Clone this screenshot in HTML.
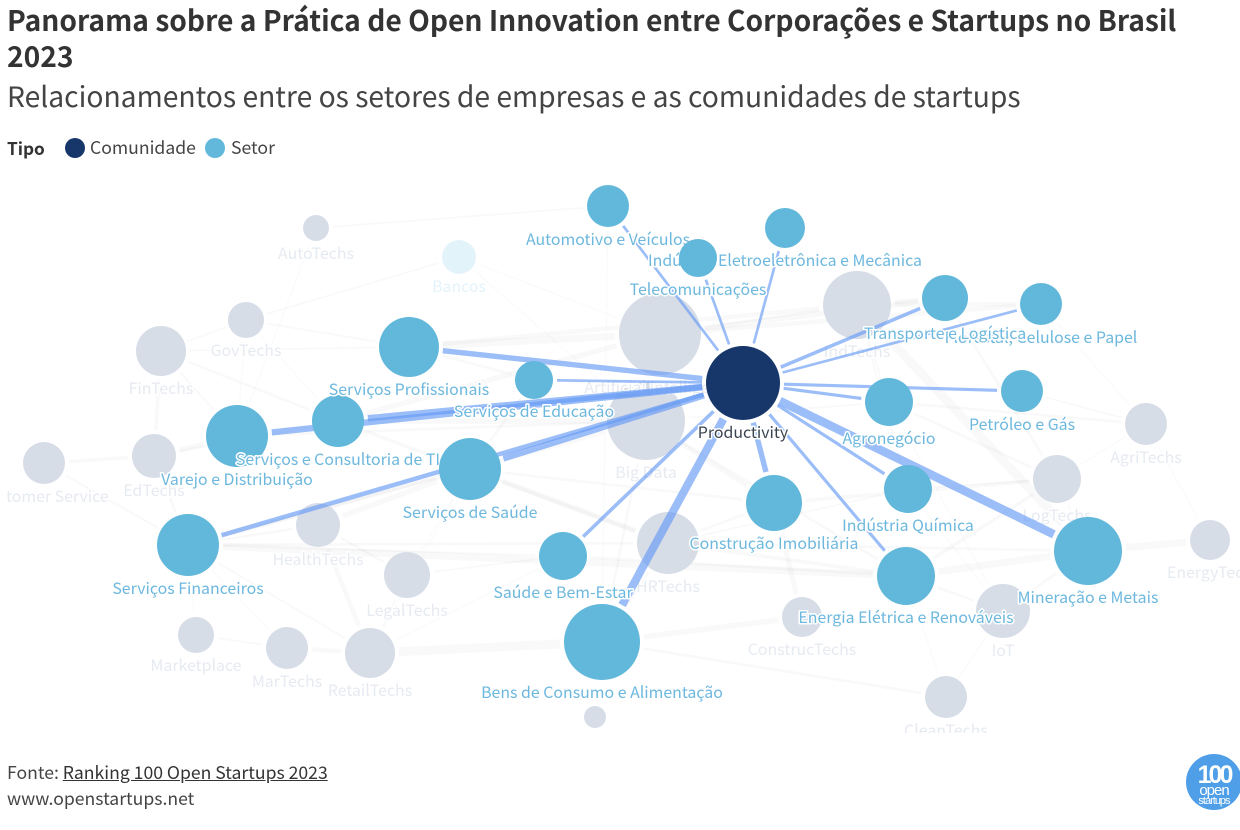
<!DOCTYPE html>
<html lang="pt-BR">
<head>
<meta charset="utf-8">
<title>Panorama sobre a Prática de Open Innovation</title>
<style>
html,body{margin:0;padding:0;background:#fff;width:1240px;height:830px;overflow:hidden}
body{font-family:"Noto Sans CJK JP","Liberation Sans",sans-serif;color:#333;position:relative}
.t{position:absolute;left:7px;white-space:nowrap}
#title{top:2px;font-size:28.2px;font-weight:700;line-height:36px;color:#333}
#subtitle{top:76px;font-size:28.24px;line-height:40px;font-weight:400;color:#444}
#legend-title{top:135.5px;font-size:17.2px;line-height:24px;font-weight:700}
.leg{position:absolute;top:135.5px;font-size:17.6px;line-height:24px;color:#444}
.dot{position:absolute;top:138px;width:20px;height:20px;border-radius:50%}
#foot1{top:761px;font-size:17.6px;line-height:24px;color:#444}
#foot1 a{color:#333;text-decoration:underline}
#foot2{top:787px;font-size:17.6px;line-height:24px;color:#444}
#chart{position:absolute;left:0;top:0}
#chart text{font-family:"Noto Sans CJK JP","Liberation Sans",sans-serif;font-size:15.9px;text-anchor:middle;dominant-baseline:central;paint-order:stroke;stroke:#fff;stroke-width:3px;stroke-linejoin:round}
#logo{position:absolute;left:1186px;top:754px;width:54px;height:56px}
</style>
</head>
<body>
<div id="title" class="t">Panorama sobre a Prática de Open Innovation entre Corporações e Startups no Brasil<br>2023</div>
<div id="subtitle" class="t">Relacionamentos entre os setores de empresas e as comunidades de startups</div>

<div id="legend-title" class="t">Tipo</div>
<div class="dot" style="left:65px;background:#17376b"></div>
<div class="leg" style="left:90px">Comunidade</div>
<div class="dot" style="left:205px;background:#62b8db"></div>
<div class="leg" style="left:231px">Setor</div>

<svg id="chart" width="1240" height="830" viewBox="0 0 1240 830">
  <defs><clipPath id="plot-clip"><rect x="7" y="170" width="1233" height="563"></rect></clipPath></defs>
  <g id="plot" clip-path="url(#plot-clip)"></g>
</svg>

<div id="foot1" class="t">Fonte: <a href="#">Ranking 100 Open Startups 2023</a></div>
<div id="foot2" class="t">www.openstartups.net</div>

<svg id="logo" viewBox="0 0 54 56">
  <circle cx="28" cy="28" r="28" fill="#4f9fe8"></circle>
  <text x="28" y="29" text-anchor="middle" fill="#fff" font-size="25" font-weight="700" letter-spacing="-3" font-family="Liberation Sans, sans-serif">100</text>
  <text x="28" y="41" text-anchor="middle" fill="#fff" font-size="15" letter-spacing="-1" font-family="Liberation Sans, sans-serif">open</text>
  <text x="28" y="50" text-anchor="middle" fill="#fff" font-size="11" letter-spacing="-1" font-family="Liberation Sans, sans-serif">startups</text>
</svg>

<script>
// Node table, layout coordinates are in force-layout units, sizes in connection strength
var nodeNames = ["Productivity","Automotivo e Veículos","Telecomunicações","Indústria Eletroeletrônica e Mecânica","Transporte e Logística","Florestal, Celulose e Papel","Serviços Profissionais","Serviços de Educação","Petróleo e Gás","Agronegócio","Serviços e Consultoria de TI","Varejo e Distribuição","Serviços de Saúde","Indústria Química","Construção Imobiliária","Saúde e Bem-Estar","Serviços Financeiros","Energia Elétrica e Renováveis","Mineração e Metais","Bens de Consumo e Alimentação","AutoTechs","Bancos","GovTechs","FinTechs","Artificial Intelligence","IndTechs","Big Data","Customer Service","EdTechs","HealthTechs","LegalTechs","Marketplace","MarTechs","RetailTechs","HRTechs","ConstrucTechs","IoT","LogTechs","AgriTechs","EnergyTech","CleanTechs",""];
var nodeTypes = ["c","s","s","s","s","s","s","s","s","s","s","s","s","s","s","s","s","s","s","s","g","b","g","g","g","g","g","g","g","g","g","g","g","g","g","g","g","g","g","g","g","g"];
var nodeLayoutX = [74.3,60.8,69.8,78.5,94.5,104.1,40.9,53.4,102.2,88.9,33.8,23.7,47.0,90.8,77.4,56.3,18.8,90.6,108.8,60.2,31.6,45.9,24.6,16.1,66.0,85.7,64.6,4.4,15.4,31.8,40.7,19.6,28.7,37.0,66.8,80.2,100.3,105.7,114.6,121.0,94.6,59.5];
var nodeLayoutY = [38.3,20.6,25.8,22.8,29.8,30.4,34.7,38.0,39.1,40.2,42.1,43.6,46.9,48.9,50.3,55.6,54.5,57.6,55.1,64.2,22.8,25.7,32.0,35.1,33.4,30.5,42.1,46.3,45.6,52.5,57.5,63.5,64.8,65.3,54.3,61.7,61.1,47.9,42.4,54.0,69.7,71.7];
var nodeValues = [100,32.2,26.4,29.2,38.6,32.2,65.7,26.4,32.2,42,49.4,70.2,70.2,42,57.3,42,70.2,61.4,84.4,105.5,12.3,21,23.7,45.7,122.8,84.4,111,32.2,35.4,35.4,38.6,23.7,32.2,45.7,70.2,29.2,53.3,42,32.2,29.2,32.2,8.8];

// Highlighted links: every sector connected to the selected community
var linkSectors = ["Automotivo e Veículos","Telecomunicações","Indústria Eletroeletrônica e Mecânica","Transporte e Logística","Florestal, Celulose e Papel","Serviços Profissionais","Serviços de Educação","Petróleo e Gás","Agronegócio","Serviços e Consultoria de TI","Varejo e Distribuição","Serviços de Saúde","Indústria Química","Construção Imobiliária","Saúde e Bem-Estar","Serviços Financeiros","Energia Elétrica e Renováveis","Mineração e Metais","Bens de Consumo e Alimentação"];
var linkWeights = [3,3,3,4,3,6,3,3.5,3.5,7,7,7,3.5,6,4,5,3.5,9.5,9];

// Background links between the other nodes
var bgSource = ["AutoTechs","AutoTechs","Bancos","Bancos","Bancos","GovTechs","GovTechs","GovTechs","GovTechs","FinTechs","FinTechs","FinTechs","FinTechs","Customer Service","Customer Service","EdTechs","EdTechs","EdTechs","Serviços Financeiros","Serviços Financeiros","Serviços Financeiros","Serviços Financeiros","Serviços Financeiros","HealthTechs","HealthTechs","HealthTechs","LegalTechs","LegalTechs","LegalTechs","Marketplace","MarTechs","RetailTechs","RetailTechs","RetailTechs","Bens de Consumo e Alimentação","Bens de Consumo e Alimentação","Construção Imobiliária","Construção Imobiliária","Energia Elétrica e Renováveis","Energia Elétrica e Renováveis","Mineração e Metais","Mineração e Metais","Mineração e Metais","IndTechs","IndTechs","IndTechs","IndTechs","IndTechs","LogTechs","LogTechs","LogTechs","LogTechs","AgriTechs","AgriTechs","AgriTechs","AgriTechs","AgriTechs","Artificial Intelligence","Artificial Intelligence","Artificial Intelligence","Artificial Intelligence","Big Data","Big Data","Big Data","Big Data","Big Data","Big Data","HRTechs","HRTechs","HRTechs","HRTechs","HRTechs","HRTechs","HRTechs","IoT","Energia Elétrica e Renováveis","Telecomunicações","Automotivo e Veículos","Serviços Profissionais","Serviços de Educação","Serviços de Saúde","Saúde e Bem-Estar","Saúde e Bem-Estar","Big Data","HRTechs","LogTechs","IoT","IoT","IndTechs","Artificial Intelligence"];
var bgTarget = ["Automotivo e Veículos","Varejo e Distribuição","GovTechs","Artificial Intelligence","Big Data","FinTechs","Serviços Profissionais","Serviços e Consultoria de TI","Varejo e Distribuição","Varejo e Distribuição","Serviços e Consultoria de TI","EdTechs","Serviços Profissionais","EdTechs","Serviços Financeiros","Varejo e Distribuição","Serviços e Consultoria de TI","Serviços Financeiros","Energia Elétrica e Renováveis","HealthTechs","Marketplace","MarTechs","RetailTechs","RetailTechs","LegalTechs","Serviços de Saúde","Saúde e Bem-Estar","RetailTechs","Serviços de Saúde","MarTechs","RetailTechs","Bens de Consumo e Alimentação","Serviços de Saúde","Saúde e Bem-Estar","ConstrucTechs","CleanTechs","ConstrucTechs","Serviços de Saúde","Mineração e Metais","IoT","EnergyTech","IoT","LogTechs","Transporte e Logística","Florestal, Celulose e Papel","Mineração e Metais","Indústria Química","Agronegócio","Transporte e Logística","Agronegócio","Construção Imobiliária","Indústria Química","Florestal, Celulose e Papel","Agronegócio","Petróleo e Gás","EnergyTech","LogTechs","Serviços Profissionais","Serviços e Consultoria de TI","Transporte e Logística","IndTechs","Serviços e Consultoria de TI","Varejo e Distribuição","Serviços Financeiros","Construção Imobiliária","Energia Elétrica e Renováveis","Agronegócio","Serviços de Saúde","Serviços e Consultoria de TI","Bens de Consumo e Alimentação","Construção Imobiliária","Energia Elétrica e Renováveis","Indústria Química","Mineração e Metais","CleanTechs","CleanTechs","Artificial Intelligence","Bens de Consumo e Alimentação","Serviços de Educação","Serviços de Saúde","Serviços Financeiros","Serviços Financeiros","Energia Elétrica e Renováveis","Bens de Consumo e Alimentação","Serviços Financeiros","Energia Elétrica e Renováveis","Indústria Química","Agronegócio","Serviços Profissionais","Florestal, Celulose e Papel"];
var bgWeights = [2,1,2,1,1,2,2,1,1,2,3,4,2,4,2,5,3,3,8,3,1,1,2,5,3,6,2,2,1,2,5,10,1,1,6,3,6,3,8,3,8,3,2,5,5,10,2,2,3,3,4,2,1,3,2,1,1,8,6,6,3,6,3,5,5,3,2,6,4,3,3,4,2,3,1,1,1,1,3,3,3,2,3,3,3,4,1,1,5,5];

// Order in which sector nodes and their labels stack, bottom first
var sectorStack = ["Florestal, Celulose e Papel","Transporte e Logística","Varejo e Distribuição","Serviços e Consultoria de TI","Serviços de Saúde","Automotivo e Veículos","Indústria Eletroeletrônica e Mecânica","Telecomunicações","Serviços Profissionais","Serviços de Educação","Petróleo e Gás","Agronegócio","Indústria Química","Construção Imobiliária","Saúde e Bem-Estar","Serviços Financeiros","Mineração e Metais","Bens de Consumo e Alimentação","Energia Elétrica e Renováveis","Productivity"];

var kindColors = {c:"#17376b",s:"#62b8db",g:"#d6dde7",b:"#e2f3fa"};
var labelColors = {c:"#3a4450",s:"#6db8de",g:"#e6eaf1",b:"#e4f3fb"};

function xScale(v){ return v * 10; }
function yScale(v){ return v * 10; }
function rScale(v){ return 3.7 * Math.sqrt(v); }
function wScale(v){ return v * 0.9; }
function slug(s){ return s.toLowerCase().normalize("NFD").replace(/[\u0300-\u036f]/g,"").replace(/[^a-z0-9]+/g,"-").replace(/^-|-$/g,""); }

var NS = "http://www.w3.org/2000/svg";
var plot = document.getElementById("plot");

function drawLink(a, b, w, color, opacity, name) {
  var i = nodeNames.indexOf(a), j = nodeNames.indexOf(b);
  var x1 = xScale(nodeLayoutX[i]), y1 = yScale(nodeLayoutY[i]);
  var x2 = xScale(nodeLayoutX[j]), y2 = yScale(nodeLayoutY[j]);
  var d = Math.sqrt((x2-x1)*(x2-x1)+(y2-y1)*(y2-y1)) || 1;
  var g1 = rScale(nodeValues[i]) + 4, g2 = rScale(nodeValues[j]) + 4;
  var el = document.createElementNS(NS, "line");
  el.setAttribute("x1", x1 + (x2-x1)*g1/d);
  el.setAttribute("y1", y1 + (y2-y1)*g1/d);
  el.setAttribute("x2", x2 - (x2-x1)*g2/d);
  el.setAttribute("y2", y2 - (y2-y1)*g2/d);
  el.setAttribute("stroke", color);
  el.setAttribute("stroke-opacity", opacity);
  el.setAttribute("stroke-width", wScale(w));
  
  
  plot.appendChild(el);
}

function drawNode(k) {
  var el = document.createElementNS(NS, "circle");
  el.setAttribute("cx", xScale(nodeLayoutX[k]));
  el.setAttribute("cy", yScale(nodeLayoutY[k]));
  el.setAttribute("r", rScale(nodeValues[k]));
  el.setAttribute("fill", kindColors[nodeTypes[k]]);
  
  
  plot.appendChild(el);
}

function drawLabel(k) {
  if (!nodeNames[k]) return;
  var el = document.createElementNS(NS, "text");
  el.setAttribute("x", xScale(nodeLayoutX[k]));
  el.setAttribute("y", yScale(nodeLayoutY[k]) + rScale(nodeValues[k]) + 11.5);
  el.setAttribute("fill", labelColors[nodeTypes[k]]);
  el.textContent = nodeNames[k];
  
  
  plot.appendChild(el);
}

var n;
for (n = 0; n < bgSource.length; n++) {
  drawLink(bgSource[n], bgTarget[n], bgWeights[n], "#777", 0.045, "background-link");
}
for (n = 0; n < nodeNames.length; n++) {
  if (nodeTypes[n] === "g" || nodeTypes[n] === "b") drawNode(n);
}
for (n = nodeNames.length - 1; n >= 0; n--) {
  if (nodeTypes[n] === "g" || nodeTypes[n] === "b") drawLabel(n);
}
for (n = 0; n < linkSectors.length; n++) {
  drawLink("Productivity", linkSectors[n], linkWeights[n], "#6699f5", 0.65, "link-" + slug(linkSectors[n]));
}
for (n = 0; n < sectorStack.length; n++) {
  drawNode(nodeNames.indexOf(sectorStack[n]));
  drawLabel(nodeNames.indexOf(sectorStack[n]));
}
</script>
</body>
</html>
